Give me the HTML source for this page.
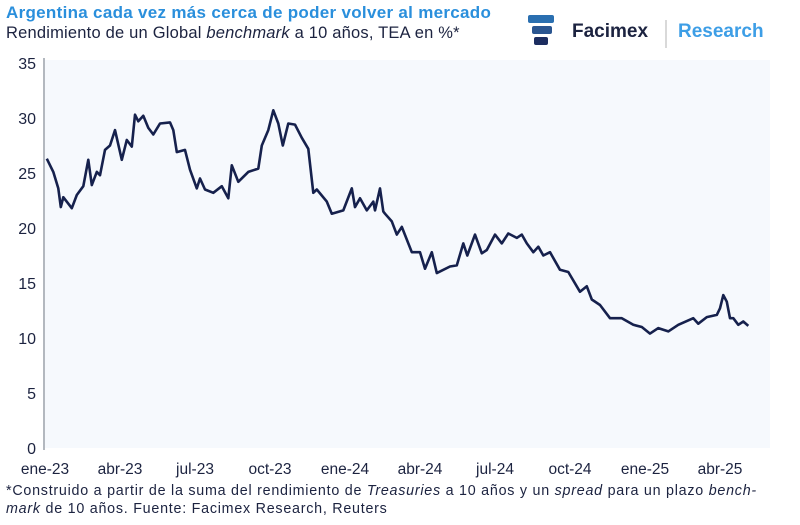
<!DOCTYPE html>
<html><head><meta charset="utf-8"><style>
body{margin:0;width:800px;height:525px;background:#fff;font-family:"Liberation Sans",sans-serif;overflow:hidden;position:relative}
.t{position:absolute;left:6px;top:3px;font-size:17px;font-weight:bold;color:#2a8fdc;letter-spacing:0.3px;white-space:nowrap}
.s{position:absolute;left:6px;top:24px;font-size:16.5px;color:#1c2340;letter-spacing:0.2px;white-space:nowrap}
.f{position:absolute;left:6px;top:482px;font-size:14.3px;color:#1c2340;line-height:18px;letter-spacing:0.75px;white-space:nowrap}
</style></head><body>
<div class="t">Argentina cada vez más cerca de poder volver al mercado</div>
<div class="s">Rendimiento de un Global <i>benchmark</i> a 10 años, TEA en %*</div>
<div style="position:absolute;left:526px;top:12px;width:270px;height:40px">
<svg width="270" height="40"><rect x="2" y="3" width="26" height="8" rx="2" fill="#2a6fb0"/><rect x="6" y="14" width="20" height="8" rx="2" fill="#2a5590"/><rect x="8" y="25" width="14" height="8" rx="2" fill="#1c2d60"/><line x1="140" y1="8" x2="140" y2="36" stroke="#ccc" stroke-width="1.5"/></svg>
<span style="position:absolute;left:46px;top:9px;font-size:19px;font-weight:bold;color:#1c2340">Facimex</span>
<span style="position:absolute;left:152px;top:9px;font-size:19px;font-weight:bold;color:#3d9ee6">Research</span>
</div>
<svg id="c" width="800" height="525" style="position:absolute;left:0;top:0"></svg>
<div class="f">*Construido a partir de la suma del rendimiento de <i>Treasuries</i> a 10 años y un <i>spread</i> para un plazo <i>bench-</i><br><i>mark</i> de 10 años. Fuente: Facimex Research, Reuters</div>
<script>
const months=[0.07,0.33,0.53,0.63,0.73,1.07,1.27,1.53,1.73,1.87,2.07,2.2,2.4,2.6,2.8,3.07,3.27,3.47,3.6,3.73,3.93,4.13,4.33,4.6,5.0,5.13,5.27,5.6,5.8,6.07,6.2,6.4,6.73,7.07,7.33,7.47,7.73,8.13,8.53,8.67,8.93,9.13,9.33,9.51,9.73,10.0,10.27,10.53,10.73,10.87,11.27,11.47,11.93,12.27,12.4,12.6,12.87,13.13,13.2,13.4,13.53,13.6,13.87,14.07,14.27,14.67,15.0,15.2,15.47,15.67,16.2,16.47,16.73,16.89,17.2,17.47,17.67,18.0,18.27,18.53,18.87,19.07,19.27,19.53,19.73,19.93,20.2,20.6,20.93,21.4,21.67,21.87,22.2,22.6,23.07,23.53,23.87,24.2,24.53,24.93,25.33,25.93,26.13,26.47,26.87,27.0,27.13,27.27,27.4,27.53,27.73,27.93,28.13];
const yields=[26.3,25.1,23.6,21.9,22.8,21.8,23.0,23.8,26.2,23.9,25.1,24.8,27.1,27.5,28.9,26.2,28.0,27.4,30.3,29.7,30.2,29.1,28.5,29.5,29.6,28.9,26.9,27.1,25.3,23.6,24.5,23.5,23.2,23.8,22.7,25.7,24.2,25.1,25.4,27.5,28.9,30.7,29.5,27.5,29.5,29.4,28.2,27.2,23.2,23.5,22.4,21.3,21.6,23.6,21.9,22.7,21.6,22.4,21.6,23.6,21.5,21.3,20.6,19.4,20.1,17.8,17.8,16.3,17.8,15.9,16.5,16.6,18.6,17.5,19.4,17.7,18.0,19.4,18.6,19.5,19.1,19.4,18.6,17.8,18.3,17.5,17.8,16.2,16.0,14.2,14.7,13.5,13.0,11.8,11.8,11.2,11.0,10.4,10.9,10.6,11.2,11.8,11.3,11.9,12.1,12.7,13.9,13.3,11.8,11.8,11.2,11.5,11.1];
const yTicks=[0,5,10,15,20,25,30,35];
const xTickMonths=[0,3,6,9,12,15,18,21,24,27];
const xTickLabels=["ene-23","abr-23","jul-23","oct-23","ene-24","abr-24","jul-24","oct-24","ene-25","abr-25"];
const X=m=>45+m*25, Y=v=>448-v*11;
const svg=document.getElementById('c'),NS='http://www.w3.org/2000/svg';
function mk(t,a){const e=document.createElementNS(NS,t);for(const k in a)e.setAttribute(k,a[k]);svg.appendChild(e);return e;}
const bg=mk('rect',{x:45,y:60,width:725,height:388,fill:'#f6f9fd'});


const ax=mk('line',{x1:44,y1:58,x2:44,y2:450,stroke:'#9aa0aa','stroke-width':1.5});


yTicks.forEach(v=>{const t=mk('text',{x:36,y:Y(v)+6,'text-anchor':'end','font-size':16,fill:'#1c2340'});t.textContent=v;

});
xTickMonths.forEach((m,i)=>{const t=mk('text',{x:X(m),y:474,'text-anchor':'middle','font-size':15.5,fill:'#1c2340'});t.textContent=xTickLabels[i];

});
const p=mk('path',{d:months.map((m,i)=>(i?'L':'M')+X(m).toFixed(1)+','+Y(yields[i]).toFixed(1)).join(''),fill:'none',stroke:'#16214d','stroke-width':2.6,'stroke-linejoin':'round'});


</script>
</body></html>
